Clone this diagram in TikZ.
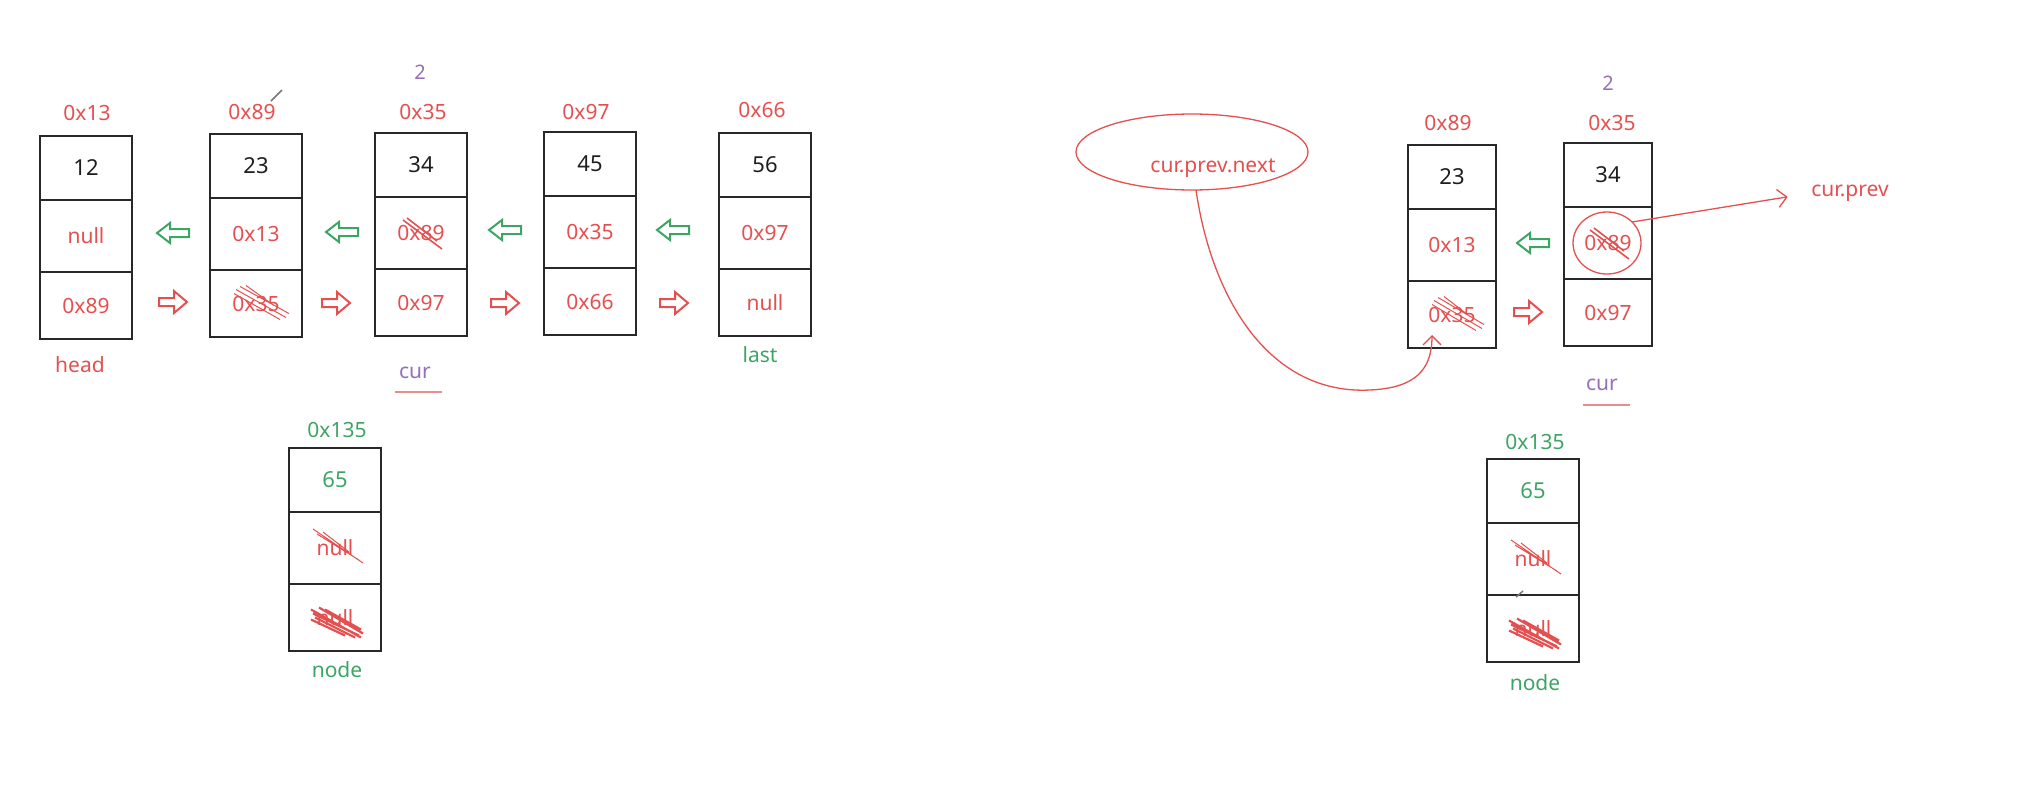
\documentclass[tikz,border=0pt]{standalone}
\usepackage{fontspec}
\setmainfont{Noto Sans}
\usetikzlibrary{arrows.meta,shapes.geometric}
\definecolor{myred}{RGB}{228,80,80}
\definecolor{mygreen}{RGB}{60,165,100}
\definecolor{mypurple}{RGB}{150,110,185}
\definecolor{mypink}{RGB}{235,140,140}
\definecolor{boxc}{RGB}{40,40,40}
\definecolor{txtc}{RGB}{30,30,30}
\definecolor{pengray}{RGB}{120,120,120}
\begin{document}
\begin{tikzpicture}[x=1pt,y=-1pt,
  every node/.style={font=\fontsize{21}{25}\selectfont, inner sep=0pt, outer sep=0pt},
  cell/.style={draw=boxc, line width=2.6pt, minimum width=92pt, anchor=north, text=myred},
  ca/.style={cell, minimum height=64pt, text=txtc, font=\fontsize{22}{26}\selectfont},
  cb/.style={cell, minimum height=72pt},
  cc/.style={cell, minimum height=67pt},
  lbl/.style={text=myred},
  glbl/.style={text=mygreen},
  plbl/.style={text=mypurple},
  scrib/.style={draw=myred, line width=1pt},
  heavy/.style={draw=myred, line width=2.2pt},
  hollow/.style={line width=2pt, line join=miter},
  hand/.style={draw=myred, line width=1.3pt},
  barb/.style={-{Straight Barb[length=9pt,width=18pt]}},
  rarr/.pic={\draw[pic actions] (-14,-4) -- (1,-4) -- (1,-11) -- (14,0) -- (1,11) -- (1,4) -- (-14,4) -- cycle;},
  larr/.pic={\draw[pic actions] (16,-4) -- (-3,-4) -- (-3,-10) -- (-16,0) -- (-3,10) -- (-3,4) -- (16,4) -- cycle;}
]
\useasboundingbox (0,0) rectangle (2038,785);

% ---------- left list ----------
\node[ca] (b1a) at (86,136) {12};
\node[cb] (b1b) at (b1a.south) {null};
\node[cc] (b1c) at (b1b.south) {0x89};
\node[lbl] (b1l) at (87,113) {0x13};
\node[lbl] (head) at (80,365) {head};

\node[ca] (b2a) at (256,134) {23};
\node[cb] (b2b) at (b2a.south) {0x13};
\node[cc] (b2c) at (b2b.south) {0x35};
\node[lbl] (b2l) at (252,112) {0x89};
\draw[draw=pengray, line width=1.5pt] (271,101) -- (282,90);

\node[ca] (b3a) at (421,133) {34};
\node[cb] (b3b) at (b3a.south) {0x89};
\node[cc] (b3c) at (b3b.south) {0x97};
\node[lbl] (b3l) at (423,112) {0x35};
\node[plbl, font=\fontsize{20}{24}\selectfont] (two1) at (420,72) {2};
\node[plbl] (cur1) at (415,373) {cur};
\draw[draw=mypink, line width=2pt] (395,392) -- (442,392);

\node[ca] (b4a) at (590,132) {45};
\node[cb] (b4b) at (b4a.south) {0x35};
\node[cc] (b4c) at (b4b.south) {0x66};
\node[lbl] (b4l) at (586,112) {0x97};

\node[ca] (b5a) at (765,133) {56};
\node[cb] (b5b) at (b5a.south) {0x97};
\node[cc] (b5c) at (b5b.south) {null};
\node[lbl] (b5l) at (762,110) {0x66};
\node[glbl] (last) at (760,355) {last};

% scribbles on left list
\draw[scrib, shift={(b2c.center)}] (-20,-14) -- (30,14) (-16,-17) -- (33,10) (-22,-10) -- (24,16) (-10,-18) -- (18,2);
\draw[scrib, line width=1.6pt, shift={(b3b.center)}] (-18,-13) -- (21,16) (-14,-15) -- (16,8);

% hollow arrows left list
\pic[draw=mygreen, hollow] at (173,233) {larr};
\pic[draw=myred, hollow] at (173,302) {rarr};
\pic[draw=mygreen, hollow] at (342,232) {larr};
\pic[draw=myred, hollow] at (336,303) {rarr};
\pic[draw=mygreen, hollow] at (505,230) {larr};
\pic[draw=myred, hollow] at (505,303) {rarr};
\pic[draw=mygreen, hollow] at (673,230) {larr};
\pic[draw=myred, hollow] at (674,303) {rarr};

% new node (left)
\node[ca, text=mygreen] (n1a) at (335,448) {65};
\node[cb] (n1b) at (n1a.south) {null};
\node[cc] (n1c) at (n1b.south) {null};
\node[glbl] (n1l) at (337,430) {0x135};
\node[glbl] (n1n) at (337,670) {node};
\draw[scrib, shift={(n1b.center)}] (-22,-19) -- (28,15) (-18,-14) -- (24,12) (-12,-16) -- (14,4);
\draw[heavy, shift={(n1c.center)}] (-24,-8) -- (26,20) (-22,-4) -- (24,18) (-20,0) -- (20,20) (-16,-10) -- (28,16) (-24,2) -- (10,18) (-10,-8) -- (26,12);

% ---------- right part ----------
\node[ca, minimum width=88pt] (r1a) at (1452,145) {23};
\node[cb, minimum width=88pt] (r1b) at (r1a.south) {0x13};
\node[cc, minimum width=88pt] (r1c) at (r1b.south) {0x35};
\node[lbl] (r1l) at (1448,123) {0x89};
\draw[scrib, shift={(r1c.center)}] (-18,-14) -- (30,14) (-14,-17) -- (32,10) (-20,-10) -- (24,16) (-8,-18) -- (18,2);

\node[ca, minimum width=88pt] (r2a) at (1608,143) {34};
\node[cb, minimum width=88pt] (r2b) at (r2a.south) {0x89};
\node[cc, minimum width=88pt] (r2c) at (r2b.south) {0x97};
\node[lbl] (r2l) at (1612,123) {0x35};
\node[plbl, font=\fontsize{20}{24}\selectfont] (two2) at (1608,83) {2};
\node[plbl] (cur2) at (1602,385) {cur};
\draw[draw=mypink, line width=2pt] (1583,405) -- (1630,405);
\draw[scrib, line width=1.6pt, shift={(r2b.center)}] (-18,-13) -- (21,16) (-14,-15) -- (16,8);
\node[ellipse, draw=myred, line width=1.3pt, minimum width=68pt, minimum height=62pt] (circ) at (1607,243) {};

\pic[draw=mygreen, hollow] at (1533,243) {larr};
\pic[draw=myred, hollow] at (1528,312) {rarr};

% cur.prev.next annotation
\node[ellipse, draw=myred, line width=1.3pt, minimum width=232pt, minimum height=76pt] (blob) at (1192,152) {};
\node[lbl] (cpn) at (1213,168) {cur.prev.next};
\coordinate (tipA) at (1432,335);
\draw[hand, barb] (blob.-84) .. controls (1212,300) and (1270,395) .. (1370,390)
   .. controls (1415,388) and (1432,370) .. (tipA);

% cur.prev annotation
\node[lbl] (cp) at (1850,193) {cur.prev};
\draw[hand, barb, shorten >=24pt] (circ.40) -- (cp.west);

% new node (right)
\node[ca, text=mygreen] (n2a) at (1533,459) {65};
\node[cb] (n2b) at (n2a.south) {null};
\node[cc] (n2c) at (n2b.south) {null};
\node[glbl] (n2l) at (1535,442) {0x135};
\node[glbl] (n2n) at (1535,683) {node};
\draw[draw=pengray, line width=1.5pt] (1516,597) -- (1523,591);
\draw[scrib, shift={(n2b.center)}] (-22,-19) -- (28,15) (-18,-14) -- (24,12) (-12,-16) -- (14,4);
\draw[heavy, shift={(n2c.center)}] (-24,-8) -- (26,20) (-22,-4) -- (24,18) (-20,0) -- (20,20) (-16,-10) -- (28,16) (-24,2) -- (10,18) (-10,-8) -- (26,12);
\end{tikzpicture}
\end{document}
